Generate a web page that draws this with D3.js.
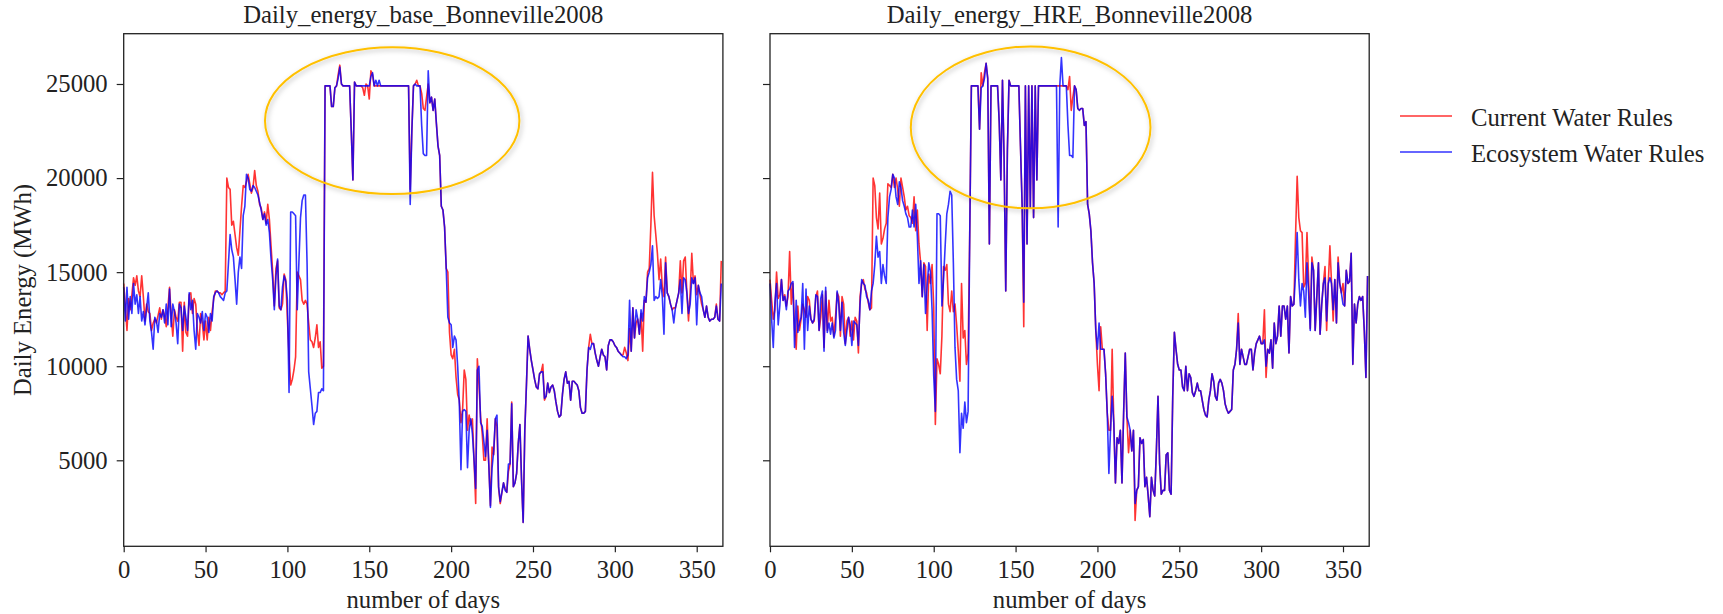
<!DOCTYPE html>
<html>
<head>
<meta charset="utf-8">
<script src="https://cdn.jsdelivr.net/npm/d3@7"></script>
<style>
  body { margin: 0; background: #fff; }
  svg text { font-family: "Times New Roman", "Liberation Serif", serif; font-size: 24.7px; fill: #222; }
</style>
</head>
<body>
<svg id="chart" width="1723" height="614"></svg>
<script>
// daily energy (MWh), one value per day of 2008 (day 0..365)
const baseCurrent = [
  14400, 13200, 11900, 13600, 13000, 13800, 14700, 14300, 14800, 14000,
  13700, 14800, 13700, 12400, 13300, 12900, 12800, 11900, 12300, 12500,
  12300, 12700, 13100, 12500, 13000, 12700, 12100, 13100, 14200, 12700,
  11600, 13000, 12600, 12400, 13400, 13400, 10800, 13400, 11800, 11600,
  13800, 13900, 12800, 13600, 13300, 11900, 11100, 12800, 12300, 11400,
  12400, 11400, 12600, 11900, 12900, 13600, 14000, 14000, 13900, 13900,
  13800, 13900, 14000, 20000, 19500, 19400, 17500, 17700, 17000, 16300,
  15900, 17200, 18500, 19600, 19500, 19800, 20200, 19700, 19200, 19500,
  20400, 19600, 19300, 18600, 18400, 17800, 18200, 17600, 18600, 17800,
  16400, 15000, 13200, 15200, 15600, 13100, 13000, 13300, 14900, 14600,
  12500, 10500, 9000, 9300, 9800, 10500, 15000, 14800, 14600, 13500,
  13300, 13500, 13300, 12300, 11400, 11300, 11000, 11500, 12200, 11000,
  11300, 9900, 10000, 24900, 24900, 24900, 24900, 23800, 23800, 24800,
  24900, 25500, 26000, 25000, 24900, 24900, 24900, 24900, 24900, 22500,
  19900, 25100, 24900, 24900, 24900, 24900, 24800, 24400, 25000, 24900,
  24200, 25700, 25500, 24900, 24900, 24900, 24900, 24900, 24900, 24900,
  24900, 24900, 24900, 24900, 24900, 24900, 24900, 24900, 24900, 24900,
  24900, 24900, 24900, 24900, 24900, 19400, 22500, 24900, 25000, 25200,
  24900, 24900, 24500, 23700, 23600, 24300, 25000, 24000, 24300, 23600,
  24200, 22900, 21700, 21200, 18500, 18300, 17400, 15200, 15000, 11800,
  10600, 10400, 10900, 9400, 8500, 8200, 7000, 7700, 9800, 9300,
  6600, 7400, 6900, 7200, 5000, 2700, 10400, 9000, 7300, 6400,
  5000, 5000, 7200, 4800, 2600, 5700, 5300, 7200, 6800, 3500,
  2700, 3300, 3800, 3500, 3300, 4400, 4800, 8100, 3600, 3800,
  4300, 5900, 6900, 4000, 1700, 6600, 9000, 11600, 10900, 10300,
  9800, 9300, 8900, 8800, 9600, 9700, 10100, 8200, 8400, 9100,
  8600, 8900, 9000, 8700, 8100, 7600, 7300, 7400, 8500, 9300,
  9700, 9100, 9200, 8200, 9200, 9200, 9100, 9000, 8700, 7800,
  7500, 7500, 7600, 9800, 11000, 11700, 11200, 11200, 10700, 10300,
  10000, 10500, 10900, 10600, 10500, 9800, 11100, 11400, 11400, 11300,
  11100, 11000, 10800, 10700, 10600, 10600, 11000, 10700, 10300, 12000,
  10800, 13100, 11500, 12300, 12500, 11700, 12800, 10800, 13500, 13400,
  15000, 15200, 17500, 20300, 18000, 17000, 16000, 14600, 15700, 14200,
  13700, 15800, 13900, 13700, 13300, 13000, 13100, 13100, 13500, 13900,
  15600, 13900, 15600, 15800, 13900, 12400, 13900, 16000, 14400, 14800,
  13800, 14300, 13800, 13300, 13000, 12600, 13200, 12600, 12400, 12500,
  12500, 12600, 13300, 12500, 12400, 15600
];

const baseEco = [
  14200, 12400, 14200, 12500, 13700, 12800, 14400, 13300, 13800, 12800,
  13700, 12400, 12900, 12200, 13100, 13900, 12400, 11800, 10900, 12600,
  12400, 11800, 12800, 12600, 13000, 12300, 13300, 12200, 14100, 12100,
  13300, 12900, 12300, 11200, 13300, 13100, 11900, 13200, 12600, 11900,
  13900, 13000, 13500, 11900, 10900, 12800, 12600, 12300, 12900, 11900,
  12800, 12600, 11800, 12800, 12400, 13700, 13900, 14000, 13900, 13700,
  13600, 13500, 13900, 14000, 15500, 17000, 16200, 15800, 14600, 13300,
  15000, 15800, 15200, 18000, 18500, 20200, 20000, 19400, 19300, 19600,
  19500, 19300, 19100, 18700, 18300, 17800, 18100, 17500, 17800, 17100,
  15700, 14600, 13000, 14800, 15700, 13200, 13000, 14200, 14800, 14500,
  13500, 8600, 18200, 18200, 18100, 18000, 13000, 15500, 17900, 18800,
  19100, 19100, 15500, 9700, 8800, 7900, 6900, 7500, 7600, 8600,
  8600, 8800, 8700, 24900, 24900, 24900, 24900, 23800, 23800, 24800,
  24900, 25300, 25900, 25000, 24900, 24900, 24900, 24900, 24900, 22500,
  19900, 25100, 24900, 24900, 24900, 24900, 24900, 24900, 24900, 24900,
  24900, 25400, 25600, 24900, 25200, 24900, 25200, 24900, 24900, 24900,
  24900, 24900, 24900, 24900, 24900, 24900, 24900, 24900, 24900, 24900,
  24900, 24900, 24900, 24900, 24900, 18600, 22500, 24900, 25000, 24900,
  24900, 24900, 22800, 21300, 21200, 21200, 25700, 24000, 24300, 23600,
  24200, 22900, 21700, 21200, 18500, 18300, 17400, 15200, 12600, 12300,
  12200, 11000, 11600, 11400, 10000, 8000, 4500, 7600, 7700, 7600,
  4600, 6600, 7200, 6400, 5000, 3500, 9800, 10000, 7000, 6800,
  6000, 5200, 6600, 4800, 2500, 4600, 5500, 7200, 7400, 3600,
  2800, 3300, 3800, 3400, 3300, 4800, 4800, 8000, 3600, 3800,
  4300, 5900, 6900, 4000, 1700, 6600, 9000, 11600, 10900, 10300,
  9800, 9300, 8900, 8800, 9600, 9700, 9700, 8300, 8400, 9100,
  8600, 8900, 9000, 8700, 8100, 7600, 7300, 7400, 8500, 9300,
  9700, 9100, 9200, 8200, 9200, 9200, 9100, 9000, 8700, 7800,
  7500, 7500, 7600, 9800, 11000, 10900, 11200, 11200, 10700, 10300,
  10000, 10500, 10900, 10600, 10500, 9800, 11100, 11400, 11400, 11300,
  11100, 11000, 10800, 10700, 10600, 10500, 10500, 10400, 10600, 13500,
  10800, 13100, 11500, 13000, 12500, 11700, 13000, 12400, 13700, 13400,
  14700, 15000, 15400, 16400, 13500, 13700, 13600, 13700, 14600, 13700,
  11700, 15500, 13900, 13700, 13300, 13000, 12300, 13100, 13500, 13900,
  14600, 12800, 14700, 14600, 13900, 12800, 13300, 14700, 14400, 14700,
  12200, 14300, 13900, 13700, 13000, 12600, 13200, 12600, 12400, 12500,
  12500, 12600, 13200, 12500, 12400, 14400
];

const hreCurrent = [
  14600, 13500, 12500, 13000, 15000, 13600, 13800, 14600, 13500, 13800,
  13200, 13700, 16100, 13300, 14400, 12000, 10900, 13200, 11900, 12500,
  13300, 13000, 12600, 13700, 13500, 12500, 12300, 12400, 13700, 14000,
  11900, 12600, 13800, 11000, 14000, 11900, 13500, 12400, 12600, 11600,
  12600, 13900, 13700, 11600, 13700, 13300, 11200, 12400, 12600, 11600,
  12400, 11400, 12600, 12400, 10700, 13700, 14400, 14600, 14100, 13900,
  13400, 13000, 13100, 20000, 19600, 17900, 17300, 19200, 16500, 16800,
  17300, 17600, 19700, 19600, 19500, 20200, 19500, 20000, 19400, 18500,
  20000, 19500, 19000, 18300, 18500, 18000, 17900, 17600, 19000, 17200,
  18300, 16500, 15500, 13700, 15500, 15300, 11900, 14900, 14400, 15400,
  13200, 6900, 10400, 10100, 9600, 11600, 15300, 15100, 15400, 13300,
  12900, 14000, 12900, 13300, 12200, 10800, 9200, 14400, 11500, 11900,
  10100, 10700, 17000, 24900, 24900, 24900, 24900, 24900, 22600, 25600,
  24900, 25600, 26100, 25300, 16500, 24900, 24900, 24900, 24900, 24900,
  23000, 19900, 25200, 21000, 14000, 21500, 25200, 24900, 24900, 24900,
  24900, 24900, 24900, 21700, 18600, 12100, 24900, 16500, 24900, 18400,
  24900, 17900, 24900, 19900, 24900, 24900, 24900, 24900, 24900, 24900,
  24900, 24900, 24900, 24900, 24900, 24900, 24900, 24900, 24900, 24900,
  24900, 24900, 24700, 25400, 23600, 24300, 24900, 24700, 23700, 23600,
  23700, 23700, 22800, 23000, 18600, 18100, 17200, 15500, 14400, 11900,
  10100, 8700, 12100, 10900, 10900, 9600, 7500, 6600, 6600, 10900,
  7000, 3800, 6200, 5900, 6600, 3800, 7500, 10700, 7300, 5400,
  6600, 5500, 6600, 1800, 3400, 3600, 6200, 5900, 6100, 3600,
  4100, 3100, 2000, 4100, 3400, 3100, 5500, 8400, 4800, 3200,
  3400, 3400, 5300, 5400, 3400, 3200, 8400, 11800, 10900, 10100,
  9800, 9800, 8900, 8700, 10000, 8700, 9600, 9400, 8600, 8400,
  8700, 9100, 8700, 8700, 8200, 7700, 7400, 7300, 8200, 8700,
  9600, 9200, 8400, 8200, 9100, 9300, 9100, 8700, 8000, 7700,
  7500, 7600, 7700, 9800, 10100, 10900, 12800, 10100, 10900, 10500,
  10100, 10100, 10500, 10900, 10900, 9800, 10700, 11200, 11400, 11600,
  11200, 11200, 13000, 9400, 10900, 10700, 11400, 9900, 12300, 11200,
  11600, 13200, 11600, 13200, 13200, 12500, 13200, 10700, 13700, 13200,
  13300, 16900, 20100, 17900, 17200, 17100, 14200, 14400, 17100, 14600,
  12000, 15800, 15100, 11900, 13700, 15500, 11700, 13300, 14400, 15300,
  11900, 14400, 16400, 14400, 12400, 14600, 12300, 15800, 14400, 13900,
  14400, 13200, 15100, 14400, 14500, 16000, 10100, 13300, 12300, 13300,
  13700, 13500, 13700, 11900, 9400, 14800
];

const hreEco = [
  14400, 12500, 11000, 13400, 14400, 12200, 13200, 14600, 13500, 13700,
  13000, 14000, 14100, 14400, 14500, 11000, 13500, 11800, 12300, 12600,
  14400, 10900, 14100, 11900, 13200, 12500, 12300, 12500, 13800, 13700,
  11900, 13600, 14000, 10800, 14200, 11800, 12300, 11700, 12300, 11500,
  11900, 14000, 13300, 11900, 13400, 11800, 11100, 11900, 12600, 12200,
  11100, 12400, 12300, 12200, 11100, 13300, 14600, 14400, 14300, 13700,
  13500, 13000, 14000, 14400, 15400, 16900, 15800, 16100, 14400, 15400,
  14800, 14400, 17900, 19000, 19400, 20200, 20000, 19000, 18600, 19800,
  19500, 18800, 18500, 18100, 17900, 17400, 17400, 18300, 17400, 18600,
  16900, 14400, 15600, 13700, 15400, 12800, 14300, 15500, 15000, 13000,
  9500, 7600, 18100, 18100, 18000, 13200, 14600, 16400, 18100, 18600,
  19300, 19100, 15500, 11000, 9300, 8700, 5400, 7500, 6700, 8100,
  7000, 7600, 17000, 24900, 24900, 24900, 24900, 24900, 22600, 24800,
  24900, 25300, 26100, 25300, 16500, 24900, 24900, 24900, 24900, 24900,
  23000, 19900, 25200, 21000, 14000, 21500, 25200, 24900, 24900, 24900,
  24900, 24900, 24900, 21700, 18600, 13400, 24900, 16500, 24900, 18400,
  24900, 17900, 24900, 19900, 24900, 24900, 24900, 24900, 24900, 24900,
  24900, 24900, 24900, 24900, 24900, 24900, 17400, 24900, 26400, 24900,
  24900, 24900, 22800, 21200, 21200, 21100, 24900, 24700, 23700, 23600,
  23700, 23700, 22800, 23000, 18600, 18100, 17200, 15500, 14400, 11900,
  10900, 12300, 10900, 10900, 10900, 9600, 7500, 4300, 6600, 8400,
  7000, 3800, 6200, 5900, 6600, 3800, 7500, 10700, 7300, 7000,
  6600, 5500, 6600, 2700, 3400, 3600, 6200, 5900, 6100, 3600,
  4100, 3100, 2000, 4100, 3400, 3100, 5500, 8400, 4800, 3200,
  3400, 3400, 5300, 5400, 3400, 3200, 8400, 11800, 10900, 10100,
  9800, 9800, 8900, 8700, 10000, 8700, 9600, 9400, 8600, 8400,
  8700, 9100, 8700, 8700, 8200, 7700, 7400, 7300, 8200, 8700,
  9600, 9200, 8400, 8200, 9100, 9300, 9100, 8700, 8000, 7700,
  7500, 7600, 7700, 9800, 10100, 10900, 12300, 10100, 10900, 10500,
  10100, 10100, 10500, 10900, 10900, 9800, 10700, 11200, 11400, 11600,
  11200, 11200, 11400, 10000, 10900, 10700, 11400, 9900, 12300, 11200,
  11600, 13200, 11600, 13200, 13200, 12500, 13200, 10700, 13700, 13200,
  13300, 14900, 17100, 14600, 13200, 14400, 14000, 12600, 15500, 13900,
  11900, 15500, 15100, 11900, 13700, 15500, 11700, 13300, 14400, 14700,
  12400, 14400, 14700, 14400, 13000, 14600, 12300, 15500, 14400, 13900,
  13300, 13200, 15100, 14400, 14500, 16000, 10100, 13300, 12300, 13300,
  13700, 13500, 13700, 11900, 9400, 14800
];

const titles = ['Daily_energy_base_Bonneville2008', 'Daily_energy_HRE_Bonneville2008'];
const seriesNames = ['Current Water Rules', 'Ecosystem Water Rules'];
const xTicks = [0, 50, 100, 150, 200, 250, 300, 350];
const yTicks = [5000, 10000, 15000, 20000, 25000];
// highlighted flat-top region: [centre day, centre MWh, half-width days, half-height MWh]
const highlights = [[164.0, 23050, 77.7, 3900], [159.2, 22690, 73.2, 4300]];

const panels = [
  { title: titles[0], current: baseCurrent, eco: baseEco, left: 123.7, mark: highlights[0] },
  { title: titles[1], current: hreCurrent, eco: hreEco, left: 770, mark: highlights[1] }
];

const plotTop = 33.7, plotW = 599.2, plotH = 512.6;
const colors = ['#ff0000', '#0000ff'];

const x = d3.scaleLinear().domain([0, 366]).range([0, plotW]);
const y = d3.scaleLinear().domain([429, 27673]).range([plotH, 0]);

const svg = d3.select('#chart');

const shadow = svg.append('defs').append('filter')
  .attr('id', 'soft')
  .attr('x', '-20%').attr('y', '-20%')
  .attr('width', '140%').attr('height', '140%');
shadow.append('feDropShadow')
  .attr('dx', 1.5).attr('dy', 2)
  .attr('stdDeviation', 2.5)
  .attr('flood-color', '#000')
  .attr('flood-opacity', 0.28);

const line = d3.line()
  .x((d, i) => x(i))
  .y(d => y(d));

panels.forEach((p, k) => {
  const g = svg.append('g')
    .attr('transform', `translate(${p.left},${plotTop})`);

  [p.current, p.eco].forEach((s, j) => {
    g.append('path')
      .datum(s)
      .attr('d', line)
      .attr('fill', 'none')
      .attr('stroke', colors[j])
      .attr('stroke-opacity', 0.8)
      .attr('stroke-width', 1.6)
      .attr('stroke-linejoin', 'round');
  });

  const [cd, cv, hd, hv] = p.mark;
  g.append('ellipse')
    .attr('cx', x(cd))
    .attr('cy', y(cv))
    .attr('rx', x(cd + hd) - x(cd))
    .attr('ry', y(cv - hv) - y(cv))
    .attr('fill', 'none')
    .attr('stroke', '#ffc000')
    .attr('stroke-width', 2)
    .attr('filter', 'url(#soft)');

  const xa = g.append('g')
    .attr('transform', `translate(0,${plotH})`)
    .call(d3.axisBottom(x).tickValues(xTicks).tickSize(6).tickPadding(8));

  const ya = g.append('g')
    .call(d3.axisLeft(y).tickValues(yTicks).tickSize(7).tickPadding(9)
      .tickFormat(k === 0 ? d3.format('d') : () => ''));

  [xa, ya].forEach(a => {
    a.attr('font-family', null).attr('font-size', null).attr('color', '#222');
    a.select('.domain').remove();
    a.selectAll('.tick line').attr('stroke-width', 1.2);
  });

  g.append('rect')
    .attr('width', plotW)
    .attr('height', plotH)
    .attr('fill', 'none')
    .attr('stroke', '#222')
    .attr('stroke-width', 1.3);

  g.append('text')
    .attr('x', plotW / 2)
    .attr('y', 22.7 - plotTop)
    .attr('text-anchor', 'middle')
    .text(p.title);

  g.append('text')
    .attr('x', plotW / 2)
    .attr('y', 608 - plotTop)
    .attr('text-anchor', 'middle')
    .text('number of days');
});

svg.append('text')
  .attr('transform', `translate(31,${plotTop + plotH / 2}) rotate(-90)`)
  .attr('text-anchor', 'middle')
  .text('Daily Energy (MWh)');

const legend = svg.append('g').attr('transform', 'translate(1400,116)');
seriesNames.forEach((name, j) => {
  const row = legend.append('g').attr('transform', `translate(0,${j * 36})`);
  row.append('line')
    .attr('x1', 0).attr('x2', 52)
    .attr('stroke', colors[j])
    .attr('stroke-opacity', 0.8)
    .attr('stroke-width', 1.6);
  row.append('text')
    .attr('x', 71)
    .attr('y', 10)
    .text(name);
});
</script>
</body>
</html>
